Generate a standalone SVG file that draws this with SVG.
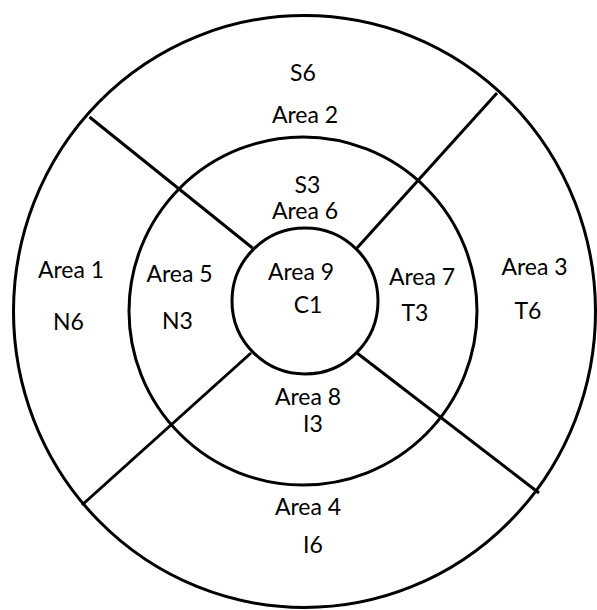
<svg xmlns="http://www.w3.org/2000/svg" width="597" height="610" viewBox="0 0 597 610">
<style>
.ring{fill:none;stroke:#000;stroke-width:3}
.div{stroke:#000;stroke-width:3;stroke-linecap:butt}
text{font-family:Lato,"Noto Sans","Liberation Sans",sans-serif;font-size:23px;fill:#000;text-anchor:middle}
</style>
<rect width="597" height="610" fill="#fff"/>
<g id="rings">
<ellipse class="ring" cx="304.5" cy="311.5" rx="291" ry="296"/>
<circle class="ring" cx="303" cy="311" r="174"/>
<circle class="ring" cx="305" cy="301" r="73"/>
</g>
<g id="dividers">
<line class="div" x1="89.5" y1="117" x2="252.5" y2="248"/>
<line class="div" x1="497" y1="93" x2="357" y2="248"/>
<line class="div" x1="82" y1="505" x2="251" y2="353"/>
<line class="div" x1="539" y1="493" x2="357" y2="353"/>
</g>
<g id="area1"><text x="71" y="278">Area 1</text><text x="68.5" y="330">N6</text></g>
<g id="area2"><text x="303" y="81">S6</text><text x="305" y="123">Area 2</text></g>
<g id="area3"><text x="534.5" y="275">Area 3</text><text x="528" y="319">T6</text></g>
<g id="area4"><text x="308" y="515">Area 4</text><text x="313" y="553">I6</text></g>
<g id="area5"><text x="179.5" y="282">Area 5</text><text x="177.5" y="329">N3</text></g>
<g id="area6"><text x="307.5" y="193">S3</text><text x="305" y="219">Area 6</text></g>
<g id="area7"><text x="422" y="285">Area 7</text><text x="415" y="321">T3</text></g>
<g id="area8"><text x="308" y="405">Area 8</text><text x="313" y="432">I3</text></g>
<g id="area9"><text x="301" y="280">Area 9</text><text x="308" y="313">C1</text></g>
</svg>
